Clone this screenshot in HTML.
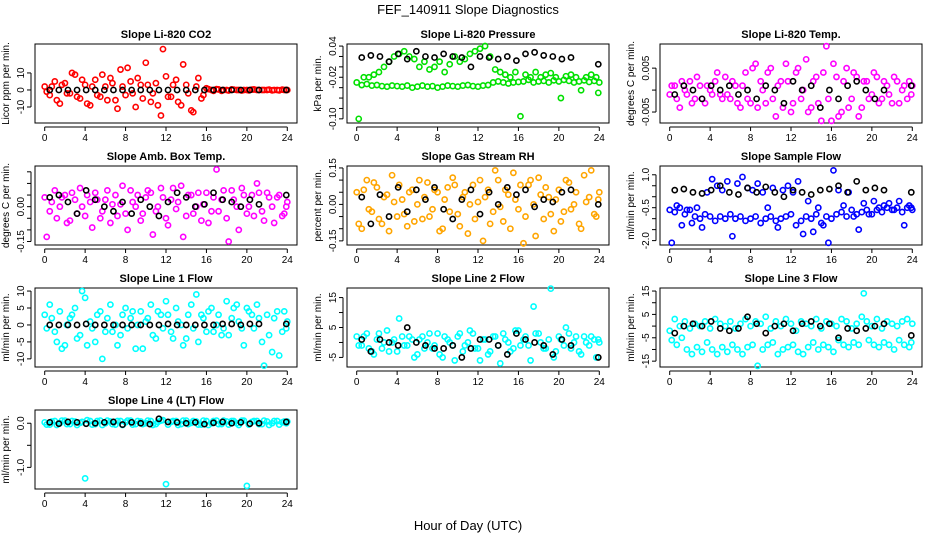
<!DOCTYPE html>
<html><head><meta charset="utf-8"><style>
body{margin:0;background:#fff;}
svg{display:block;font-family:"Liberation Sans",Arial,sans-serif;}
</style></head><body>
<svg id="c" width="936" height="540" viewBox="0 0 936 540">
<text x="468" y="14" text-anchor="middle" font-size="13">FEF_140911  Slope Diagnostics</text>
<text x="468" y="530" text-anchor="middle" font-size="13">Hour of Day (UTC)</text>
</svg>
<script>
const hrsA=[0,0.5,1,1.5,2,2.5,3,3.5,4,4.5,5,5.5,6,6.5,7,7.5,8,8.5,9,9.5,10,10.5,11,11.5,12,12.5,13,13.5,14,14.5,15,15.5,16,16.5,17,17.5,18,18.5,19,19.5,20,20.5,21,21.5,22,22.5,23,23.5,24];
const hrsB=[0.2,0.7,1.2,1.7,2.2,2.7,3.2,3.7,4.2,4.7,5.2,5.7,6.2,6.7,7.2,7.7,8.2,8.7,9.2,9.7,10.2,10.7,11.2,11.7,12.2,12.7,13.2,13.7,14.2,14.7,15.2,15.7,16.2,16.7,17.2,17.7,18.2,18.7,19.2,19.7,20.2,20.7,21.2,21.7,22.2,22.7,23.2,23.7,23.9];
const hrsK=[0.5,1.4,2.3,3.2,4.1,5,5.9,6.8,7.7,8.6,9.5,10.4,11.3,12.2,13.1,14,14.9,15.8,16.7,17.6,18.5,19.4,20.3,21.2,23.9];
const xTicks=[0,4,8,12,16,20,24];

const co2A=[2,-3,5,-8,4,-2,9,-5,3,-9,6,-4,2,7,-6,12,-3,5,-10,3,16,-7,4,-15,8,-4,6,-9,3,-12,2,-5,1,0,0.5,-0.5,0,0.3,0,-0.3,0,0.2,0,0,0,-0.2,0,0.2,0];
const co2B=[-1,2,-6,3,-2,10,-4,6,-8,2,-3,9,-6,4,-11,2,13,-2,7,-5,3,-2,-9,24,-4,3,-7,15,-2,-13,7,-3,0.5,-0.5,0.3,0,-0.3,0.2,0,0,-0.2,0.3,0,0,0.2,0,-0.2,0,0];
const co2K=[0,0,0,0,0,0,0,0,0,0,0,0,0,0,0,0,0,0,0,0,0,0,0,0,0];
const presA=[-0.03,-0.035,-0.033,-0.036,-0.035,-0.037,-0.038,-0.036,-0.037,-0.038,-0.036,-0.04,-0.038,-0.036,-0.038,-0.037,-0.04,-0.038,-0.036,-0.037,-0.038,-0.036,-0.035,-0.037,-0.038,-0.036,-0.035,-0.03,-0.028,-0.03,-0.032,-0.03,-0.029,-0.028,-0.025,-0.03,-0.028,-0.027,-0.03,-0.026,-0.028,-0.025,-0.027,-0.03,-0.028,-0.026,-0.029,-0.027,-0.03];
const presB=[-0.1,-0.02,-0.02,-0.015,-0.01,0.0,0.01,0.02,0.025,0.03,0.02,0.015,0.0,0.01,-0.005,0.0,0.01,-0.01,0.005,0.02,0.01,0.015,0.025,0.03,0.035,0.04,0.02,-0.005,-0.01,-0.015,-0.02,-0.01,-0.095,-0.015,-0.02,-0.01,-0.02,-0.015,-0.012,-0.02,-0.06,-0.018,-0.015,-0.02,-0.045,-0.02,-0.015,-0.02,-0.05];
const presK=[0.018,0.022,0.02,0.01,0.025,0.015,0.03,0.02,0.018,0.025,0.02,0.018,0.0,0.02,0.018,0.015,0.02,0.012,0.025,0.028,0.022,0.02,0.015,0.018,0.005];
const tempA=[-0.001,0.001,-0.004,0.0,0.002,-0.002,0.001,-0.003,0.0,0.002,-0.001,0.003,-0.002,0.001,-0.004,0.004,-0.003,0.006,0.002,-0.003,0.005,-0.006,0.002,0.006,-0.005,0.004,-0.002,0.007,-0.004,0.003,-0.007,0.01,-0.007,0.003,-0.005,0.005,-0.002,0.003,-0.004,0.002,-0.001,0.003,-0.002,0.001,-0.003,0.002,0.0,-0.002,0.001];
const tempB=[0.001,-0.002,0.002,-0.001,-0.003,0.003,-0.002,0.001,-0.001,0.004,-0.002,-0.001,0.002,-0.003,0.001,-0.002,0.005,-0.004,0.0,0.004,-0.002,0.001,-0.004,0.002,-0.003,0.005,0.0,-0.005,0.002,-0.003,0.004,-0.002,0.006,-0.006,0.002,-0.004,0.004,-0.006,0.002,-0.002,0.004,-0.003,0.002,-0.001,0.003,-0.003,0.001,0.002,-0.001];
const tempK=[-0.001,0.001,0.0,-0.002,0.001,0.0,0.001,-0.001,0.0,-0.002,0.001,0.0,-0.003,0.002,0.0,0.001,-0.004,0.0,-0.002,0.001,0.002,0.0,-0.002,0.0,0.001];
const ambA=[0.04,-0.02,0.07,0.0,0.05,-0.06,0.03,0.08,-0.04,0.02,0.06,-0.05,0.03,-0.07,0.05,0.01,-0.03,0.07,0.0,-0.06,0.04,0.06,-0.02,0.08,-0.05,0.03,-0.01,0.09,-0.04,0.05,0.0,-0.06,0.06,-0.02,0.16,0.03,-0.05,0.07,0.0,0.08,-0.03,0.05,0.1,-0.02,0.06,0.0,0.04,-0.04,0.02];
const ambB=[-0.13,0.02,-0.05,0.04,-0.07,0.06,-0.03,0.0,0.05,-0.09,0.03,-0.02,0.07,0.01,-0.04,0.09,-0.1,0.02,0.05,-0.03,0.07,-0.12,0.0,0.04,-0.08,0.08,0.02,-0.13,0.05,-0.03,0.06,0.01,-0.07,0.04,-0.02,0.07,-0.15,0.03,-0.1,0.05,0.0,-0.04,0.06,-0.06,0.04,-0.07,0.05,-0.03,0.0];
const ambK=[0.04,0.05,0.02,-0.03,0.07,0.03,0.0,-0.02,0.02,-0.03,0.03,0.0,-0.04,0.02,0.06,0.04,0.0,0.01,0.06,0.03,0.02,0.0,0.03,0.01,0.05];
const rhA=[0.05,-0.1,0.1,-0.03,0.07,-0.08,0.04,0.12,-0.05,0.02,-0.09,0.06,0.0,-0.06,0.09,-0.02,0.05,-0.1,0.07,0.11,-0.04,0.03,-0.12,0.08,0.01,-0.15,0.06,-0.03,0.1,-0.07,0.04,0.13,-0.02,-0.16,0.08,0.0,0.11,-0.06,0.03,-0.11,0.06,-0.03,0.09,0.0,-0.08,0.12,0.03,-0.04,0.05];
const rhB=[-0.08,0.06,-0.02,0.09,-0.06,0.03,-0.11,0.01,0.08,-0.04,0.05,-0.07,0.1,0.03,-0.05,0.06,-0.11,0.02,-0.03,0.08,-0.09,0.05,0.0,-0.06,0.1,0.03,-0.08,0.14,-0.01,0.06,-0.1,0.02,0.08,-0.05,0.1,-0.13,0.04,0.07,-0.04,0.02,-0.07,0.1,-0.02,0.05,-0.1,0.01,0.14,-0.05,0.02];
const rhK=[0.03,-0.08,0.04,-0.05,0.07,-0.03,0.06,0.02,0.07,-0.02,-0.06,0.02,0.06,-0.04,0.05,0.0,0.07,0.04,0.06,-0.01,0.02,0.01,0.05,0.06,0.0];
const sfA=[-0.6,-0.7,-0.5,-0.8,-0.6,-0.9,-1.0,-0.8,-0.9,-1.1,-0.9,-1.0,-0.8,-1.0,-0.9,-1.1,-1.0,-0.9,-1.2,-1.0,-0.9,-1.1,-1.0,-0.9,-0.8,-1.3,-1.1,-0.9,-1.0,-0.8,-1.2,-0.9,-1.0,-0.8,-0.7,-0.9,-0.6,-0.8,-0.7,-0.6,-0.8,-0.6,-0.7,-0.5,-0.6,-0.5,-0.7,-0.5,-0.6];
const sfB=[-2.1,-0.4,-1.3,-0.6,-1.2,-0.5,-1.4,0.2,0.8,0.5,0.3,0.7,-1.8,0.6,0.9,0.4,0.3,0.6,0.2,-0.5,0.4,-1.4,0.3,0.5,0.2,0.7,-1.7,-0.2,-1.6,-0.5,-1.3,-2.1,1.2,0.3,-0.4,0.2,-0.9,-1.5,-0.3,-0.8,-0.2,-0.5,-0.4,-0.3,-0.6,-0.2,-1.3,-0.4,-0.5];
const sfK=[0.3,0.35,0.2,0.15,0.3,0.5,0.2,0.1,0.4,0.2,0.45,0.2,0.0,0.3,0.2,0.1,0.3,0.35,0.5,0.2,0.7,0.3,0.4,0.3,0.2];
const l1A=[3,6,-2,4,-6,2,5,-3,8,1,-5,4,-2,6,0,-3,5,2,-7,4,1,6,-4,3,7,-2,5,0,-4,6,9,3,-2,5,0,-3,7,2,6,-1,5,3,6,-5,3,-8,4,-2,1];
const l1B=[-1,2,-5,-7,0,3,-4,10,-6,-1,3,-10,2,-2,-6,3,-1,4,0,-7,2,-3,4,-1,3,-4,1,-6,3,-1,-5,2,4,-2,3,-1,-3,5,1,-6,4,-1,2,-12,-3,2,-9,4,-1];
const l1K=[0,0,0,0,0.3,0,0,0,0,0,0,0,0,0.3,0,0,0,0,0,0.3,0.3,0,0.3,0.3,0.3];
const l2A=[2,-1,3,-3,1,-2,4,0,-3,2,-1,1,-4,2,0,-2,3,-5,1,-1,2,-3,0,3,-2,1,-4,2,-1,3,0,-2,4,1,-1,12,3,-2,1,-5,2,-1,3,0,-3,2,-1,1,0];
const l2B=[-1,2,-2,-4,3,0,-3,1,8,-1,2,-5,1,-2,3,-1,-4,2,0,-6,3,-1,4,-2,-6,1,-3,2,-7,1,-3,4,-1,2,-6,3,0,-2,18,-3,1,5,-2,2,-4,0,2,-5,1];
const l2K=[1,-3,1,0,-1,5,0,-1,-2,-2,-1,-5,-2,1,1,-1,-4,3,1,0,-1,-4,1,-1,-5];
const l3A=[-2,3,0,2,-1,1,0,2,-1,3,1,0,2,-1,1,3,0,2,1,4,-1,2,0,3,1,-2,2,1,0,3,-1,2,1,0,3,2,-1,1,4,2,0,3,-1,2,1,0,2,3,1];
const l3B=[-6,-8,-5,-10,-12,-9,-11,-7,-10,-12,-9,-11,-8,-10,-12,-9,-8,-17,-10,-8,-7,-12,-10,-9,-8,-11,-12,-9,-7,-10,-8,-9,-11,-6,-8,-9,-7,-8,14,-6,-8,-9,-7,-8,-10,-6,-8,-9,-7];
const l3K=[-3,0,1,0,2,-1,-2,-1,4,1,-3,0,1,-2,1,2,0,1,-5,-1,-2,-1,0,1,-4];
const l4A=[0.02,-0.03,0.05,0.0,0.06,-0.02,0.04,0.01,-1.25,0.05,-0.02,0.06,0.0,0.04,-0.03,0.05,0.02,0.06,-0.02,0.04,0.0,0.05,-0.02,0.06,-1.38,0.03,0.05,-0.02,0.06,0.01,0.04,-0.03,0.05,0.0,0.06,-0.02,0.04,0.05,0.0,0.06,-1.42,0.03,0.05,-0.02,0.04,0.0,0.05,0.02,0.04];
const l4B=[-0.03,0.04,-0.04,0.06,-0.02,0.05,-0.04,0.03,0.07,-0.03,0.05,-0.04,0.06,-0.02,0.05,-0.04,0.06,-0.03,0.05,-0.02,0.06,-0.04,0.03,0.07,-0.03,0.05,-0.04,0.06,-0.02,0.05,-0.03,0.06,-0.04,0.05,-0.02,0.06,-0.03,0.05,-0.04,0.06,-0.03,0.05,-0.02,0.06,-0.04,0.05,-0.03,0.04,0.0];
const l4K=[0.02,-0.01,0.03,0.02,-0.01,0.0,0.02,0.03,-0.03,0.02,0.0,-0.02,0.1,0.03,0.02,0.0,0.02,-0.02,0.01,0.03,0.0,0.02,-0.01,0.0,0.03];

const co2Ticks=[-10,0,10], presTicks=[-0.10,-0.08,-0.06,-0.04,-0.02,0.00,0.02,0.04], tempTicks=[-0.005,0,0.005];
const ambTicks=[-0.15,-0.10,-0.05,0,0.05,0.10,0.15], rhTicks=[-0.15,-0.10,-0.05,0,0.05,0.10,0.15], sfTicks=[-2.0,-1.5,-1.0,-0.5,0,0.5,1.0];
const l1Ticks=[-10,-5,0,5,10], l2Ticks=[-5,0,5,10,15], l3Ticks=[-15,-10,-5,0,5,10,15], l4Ticks=[-1.0,-0.5,0.0];
const co2Lab=["-10","0","10"], presLab=["-0.10","","","","-0.02","","","0.04"], tempLab=["-0.005","","0.005"];
const ambLab=["-0.15","","","0.00","","",""], rhLab=["-0.15","","","0.00","","","0.15"], sfLab=["-2.0","","","-0.5","","","1.0"];
const l1Lab=["-10","-5","0","5","10"], l2Lab=["-5","","5","","15"], l3Lab=["-15","","-5","","5","","15"], l4Lab=["-1.0","","0.0"];

const panels=[
 {name:"co2",title:"Slope Li-820 CO2",ylab:"Licor ppm per min.",col:"#ff0000",A:co2A,B:co2B,K:co2K,ticks:co2Ticks,labs:co2Lab,lo:-19.4,hi:27,c:0,r:0},
 {name:"pressure",title:"Slope Li-820 Pressure",ylab:"kPa per min.",col:"#00e000",A:presA,B:presB,K:presK,ticks:presTicks,labs:presLab,lo:-0.108,hi:0.044,c:1,r:0},
 {name:"li820-temp",title:"Slope Li-820 Temp.",ylab:"degrees C per min.",col:"#ff00ff",A:tempA,B:tempB,K:tempK,ticks:tempTicks,labs:tempLab,lo:-0.0075,hi:0.0105,c:2,r:0},
 {name:"amb-box-temp",title:"Slope Amb. Box Temp.",ylab:"degrees C per min.",col:"#ff00ff",A:ambA,B:ambB,K:ambK,ticks:ambTicks,labs:ambLab,lo:-0.165,hi:0.175,c:0,r:1},
 {name:"gas-rh",title:"Slope Gas Stream RH",ylab:"percent per min.",col:"#ffa500",A:rhA,B:rhB,K:rhK,ticks:rhTicks,labs:rhLab,lo:-0.167,hi:0.158,c:1,r:1},
 {name:"sample-flow",title:"Slope Sample Flow",ylab:"ml/min per min.",col:"#0000ff",A:sfA,B:sfB,K:sfK,ticks:sfTicks,labs:sfLab,lo:-2.2,hi:1.4,c:2,r:1},
 {name:"line1-flow",title:"Slope Line 1 Flow",ylab:"ml/min per min.",col:"#00ffff",A:l1A,B:l1B,K:l1K,ticks:l1Ticks,labs:l1Lab,lo:-12.4,hi:10.9,c:0,r:2},
 {name:"line2-flow",title:"Slope Line 2 Flow",ylab:"ml/min per min.",col:"#00ffff",A:l2A,B:l2B,K:l2K,ticks:l2Ticks,labs:l2Lab,lo:-8.2,hi:18.2,c:1,r:2},
 {name:"line3-flow",title:"Slope Line 3 Flow",ylab:"ml/min per min.",col:"#00ffff",A:l3A,B:l3B,K:l3K,ticks:l3Ticks,labs:l3Lab,lo:-17.5,hi:16.3,c:2,r:2},
 {name:"line4-flow",title:"Slope Line 4 (LT) Flow",ylab:"ml/min per min.",col:"#00ffff",A:l4A,B:l4B,K:l4K,ticks:l4Ticks,labs:l4Lab,lo:-1.49,hi:0.3,c:0,r:3}
];
const colX=[35,347,660], rowY=[44,166,288,410], W=262, H=79;
const NS="http://www.w3.org/2000/svg", svg=document.getElementById("c");
function mk(t,a,p){const e=document.createElementNS(NS,t);for(const k in a)e.setAttribute(k,a[k]);(p||svg).appendChild(e);return e;}
panels.forEach(p=>{
  const L=colX[p.c], T=rowY[p.r];
  const g=mk("g",{});
  
  
  const xs=h=>L+(h+0.96)/25.92*W;
  const ys=v=>T+H-(v-p.lo)/(p.hi-p.lo)*H;
  const box=mk("rect",{x:L,y:T,width:W,height:H,fill:"none",stroke:"#000","stroke-width":1},g);
  
  
  const tt=mk("text",{x:L+W/2,y:T-6,"text-anchor":"middle","font-size":11,"font-weight":"bold"},g);tt.textContent=p.title;
  
  
  mk("line",{x1:xs(0),x2:xs(24),y1:T+H+4,y2:T+H+4,stroke:"#000"},g);
  xTicks.forEach(t=>{
    mk("line",{x1:xs(t),x2:xs(t),y1:T+H+4,y2:T+H+8,stroke:"#000"},g);
    const tx=mk("text",{x:xs(t),y:T+H+18,"text-anchor":"middle","font-size":10},g);tx.textContent=t;
    
    
  });
  const yt0=p.ticks[0], yt1=p.ticks[p.ticks.length-1];
  mk("line",{x1:L-4,x2:L-4,y1:ys(yt0),y2:ys(yt1),stroke:"#000"},g);
  p.ticks.forEach((t,i)=>{
    mk("line",{x1:L-8,x2:L-4,y1:ys(t),y2:ys(t),stroke:"#000"},g);
    if(p.labs[i]){const ty=mk("text",{x:L-11,y:ys(t),"text-anchor":"middle","font-size":10,transform:`rotate(-90 ${L-11} ${ys(t)})`},g);ty.textContent=p.labs[i];
      
      }
  });
  const yl=mk("text",{x:L-26,y:T+H/2,"text-anchor":"middle","font-size":10,transform:`rotate(-90 ${L-26} ${T+H/2})`},g);yl.textContent=p.ylab;
  
  
  const drawSeries=(hs,vs,color,nm)=>{
    vs.forEach((v,i)=>{
      const c=mk("circle",{cx:xs(hs[i]),cy:ys(v),r:2.6,fill:"none",stroke:color,"stroke-width":1.6},g);
      
      
    });
  };
  drawSeries(hrsA,p.A,p.col,'point-a');
  drawSeries(hrsB,p.B,p.col,'point-b');
  drawSeries(hrsK,p.K,"#000",'point-black');
});
</script>
</body></html>
